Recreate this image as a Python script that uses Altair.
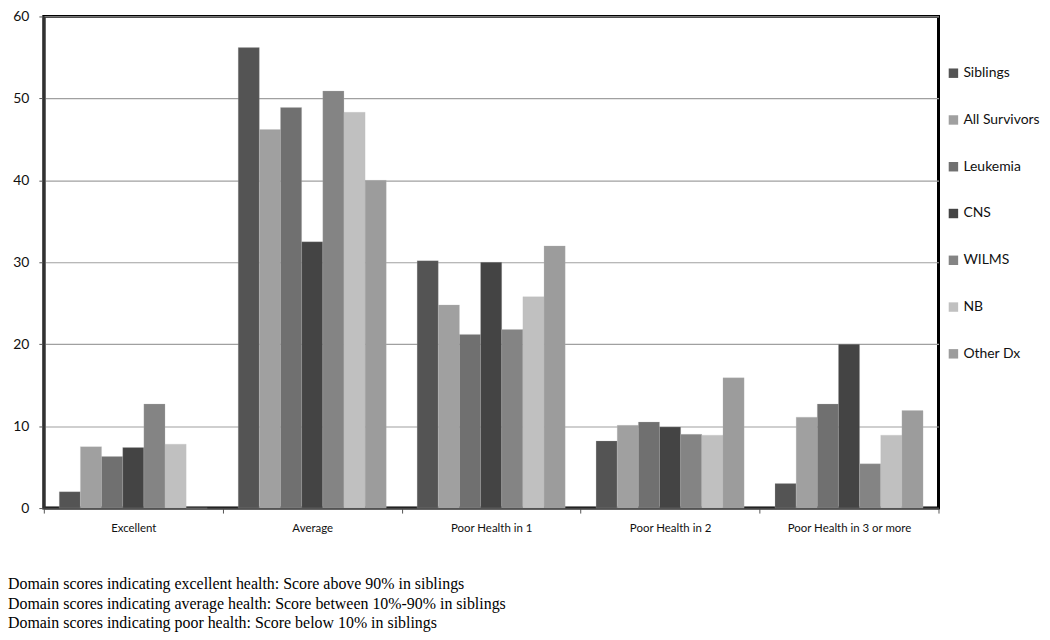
import altair as alt
import pandas as pd

categories = ["Excellent", "Average", "Poor Health in 1", "Poor Health in 2", "Poor Health in 3 or more"]
groups = ["Siblings", "All Survivors", "Leukemia", "CNS", "WILMS", "NB", "Other Dx"]
colors = ["#545454", "#a0a0a0", "#707070", "#444444", "#848484", "#c0c0c0", "#9c9c9c"]

siblings = [2.0, 56.2, 30.2, 8.2, 3.0]
all_survivors = [7.5, 46.2, 24.8, 10.1, 11.1]
leukemia = [6.3, 48.9, 21.2, 10.5, 12.7]
cns = [7.4, 32.5, 30.0, 9.9, 20.0]
wilms = [12.7, 50.9, 21.8, 9.0, 5.4]
nb = [7.8, 48.3, 25.8, 8.9, 8.9]
other_dx = [0.0, 40.0, 32.0, 15.9, 11.9]

notes = [
    "Domain scores indicating excellent health: Score above 90% in siblings",
    "Domain scores indicating average health: Score between 10%-90% in siblings",
    "Domain scores indicating poor health: Score below 10% in siblings",
]

series = [siblings, all_survivors, leukemia, cns, wilms, nb, other_dx]
rows = []
for g, vals in zip(groups, series):
    for c, v in zip(categories, vals):
        rows.append({"category": c, "group": g, "value": v})
df = pd.DataFrame(rows)

label_font = "Lato"

chart = alt.Chart(df).mark_bar(stroke="#bbbbbb", strokeWidth=0.4, strokeOpacity=0.6).encode(
    x=alt.X("category:N", sort=categories, title=None,
            scale=alt.Scale(paddingInner=0, paddingOuter=0),
            axis=alt.Axis(labelAngle=0, tickBand="extent", tickSize=5, tickColor="#555555",
                          labelFont=label_font, labelFontSize=11.5, labelColor="#111111",
                          labelPadding=10, domainColor="#444444", domainWidth=2)),
    xOffset=alt.XOffset("group:N", sort=groups,
                        scale=alt.Scale(paddingInner=0, paddingOuter=0.73)),
    y=alt.Y("value:Q", title=None,
            scale=alt.Scale(domain=[0, 60], nice=False),
            axis=alt.Axis(values=[0, 10, 20, 30, 40, 50, 60], grid=True, gridColor="#a0a0a0",
                          gridWidth=1.2, tickSize=5, tickColor="#555555",
                          labelFont=label_font, labelFontSize=14, labelColor="#111111",
                          labelPadding=10, domainColor="#333333", domainWidth=2.5)),
    color=alt.Color("group:N", sort=groups,
                    scale=alt.Scale(domain=groups, range=colors),
                    legend=alt.Legend(title=None, orient="none", legendX=907, legendY=50,
                                      symbolType="square", symbolSize=90, symbolStrokeWidth=0,
                                      labelFont=label_font, labelFontSize=14, labelColor="#111111",
                                      rowPadding=33, labelOffset=3)),
).properties(
    width=899,
    height=494,
    padding={"left": 36, "top": 7, "right": 104, "bottom": 123},
    autosize=alt.AutoSizeParams(type="none"),
    background="white",
    title=alt.TitleParams(text=notes, orient="bottom", anchor="start", frame="group",
                          dx=-36, offset=42, font="Liberation Serif", fontSize=16,
                          fontWeight="normal", color="#000000", lineHeight=19.5),
).configure_view(
    stroke="#000000", strokeWidth=3
)

chart.save("out.html", embed_options={"renderer": "svg", "actions": False})
